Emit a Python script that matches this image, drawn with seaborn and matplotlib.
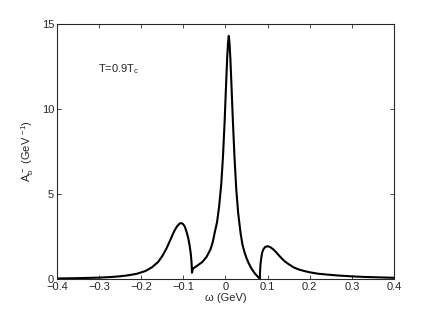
import matplotlib
matplotlib.use('Agg')
import matplotlib.pyplot as plt
import seaborn as sns
import pandas as pd

# spectral function
omega = [-0.400, -0.350, -0.300, -0.270, -0.250, -0.230, -0.210, -0.190, -0.175,
         -0.160, -0.150, -0.140, -0.130, -0.122, -0.115, -0.109, -0.105, -0.101,
         -0.097, -0.094, -0.091, -0.088, -0.085, -0.0825, -0.081, -0.080, -0.0795,
         -0.078, -0.0765, -0.072, -0.065, -0.055, -0.045, -0.0355, -0.030, -0.025,
         -0.020, -0.015, -0.010, -0.006, -0.002, 0.001, 0.004, 0.006, 0.0078,
         0.0095, 0.0115, 0.0145, 0.0175, 0.0215, 0.0255, 0.0300, 0.0355, 0.040,
         0.045, 0.050, 0.055, 0.060, 0.065, 0.070, 0.075, 0.079, 0.0815,
         0.082, 0.083, 0.085, 0.087, 0.090, 0.094, 0.100, 0.106, 0.113, 0.120,
         0.130, 0.140, 0.150, 0.162, 0.175, 0.190, 0.201, 0.220, 0.241, 0.270,
         0.304, 0.330, 0.359, 0.400]
A_b = [0.03, 0.05, 0.08, 0.12, 0.16, 0.22, 0.31, 0.47, 0.68,
       1.00, 1.35, 1.80, 2.35, 2.80, 3.10, 3.26, 3.29, 3.24,
       3.10, 2.90, 2.65, 2.35, 1.95, 1.50, 1.10, 0.70, 0.37,
       0.55, 0.62, 0.70, 0.82, 1.00, 1.30, 1.75, 2.20, 2.80,
       3.35, 4.30, 5.60, 7.20, 9.30, 11.2, 13.0, 13.9, 14.3,
       13.9, 13.0, 11.2, 9.30, 7.10, 5.30, 3.90, 2.75, 2.05,
       1.58, 1.22, 0.93, 0.69, 0.49, 0.32, 0.18, 0.08, 0.02,
       0.40, 0.85, 1.25, 1.55, 1.75, 1.88, 1.93, 1.88, 1.75, 1.58,
       1.30, 1.05, 0.87, 0.68, 0.55, 0.45, 0.39, 0.31, 0.26, 0.20,
       0.15, 0.12, 0.10, 0.07]

df = pd.DataFrame({'omega': omega, 'A': A_b})

sns.set_style('ticks')
plt.rcParams['font.family'] = ['Liberation Sans', 'DejaVu Sans']
plt.rcParams['mathtext.default'] = 'regular'

fig = plt.figure(figsize=(4.36, 3.15), dpi=100)
ax = fig.add_axes([0.1307, 0.1143, 0.7730, 0.8095])

sns.lineplot(data=df, x='omega', y='A', color='black', linewidth=1.5,
             sort=False, estimator=None, ax=ax)

ax.set_xlim(-0.4, 0.4)
ax.set_ylim(0, 15)
ax.set_xticks([-0.4, -0.3, -0.2, -0.1, 0, 0.1, 0.2, 0.3, 0.4])
ax.set_xticklabels(['\u22120.4', '\u22120.3', '\u22120.2', '\u22120.1', '0',
                    '0.1', '0.2', '0.3', '0.4'])
ax.set_yticks([0, 5, 10, 15])
ax.tick_params(direction='in', length=3, width=0.6, labelsize=8,
               top=True, right=True, colors='#262626', pad=2)
for s in ax.spines.values():
    s.set_visible(True)
    s.set_linewidth(0.8)
    s.set_color('#262626')

ax.set_xlabel('\u03c9 (GeV)', fontsize=8, labelpad=1)
ax.set_ylabel('A$_b^-$ (GeV $^{-1}$)', fontsize=8, labelpad=4)
ax.text(-0.303, 12.35, 'T=0.9T$_c$', fontsize=8, va='center', ha='left')

fig.savefig('out.png', dpi=100)
